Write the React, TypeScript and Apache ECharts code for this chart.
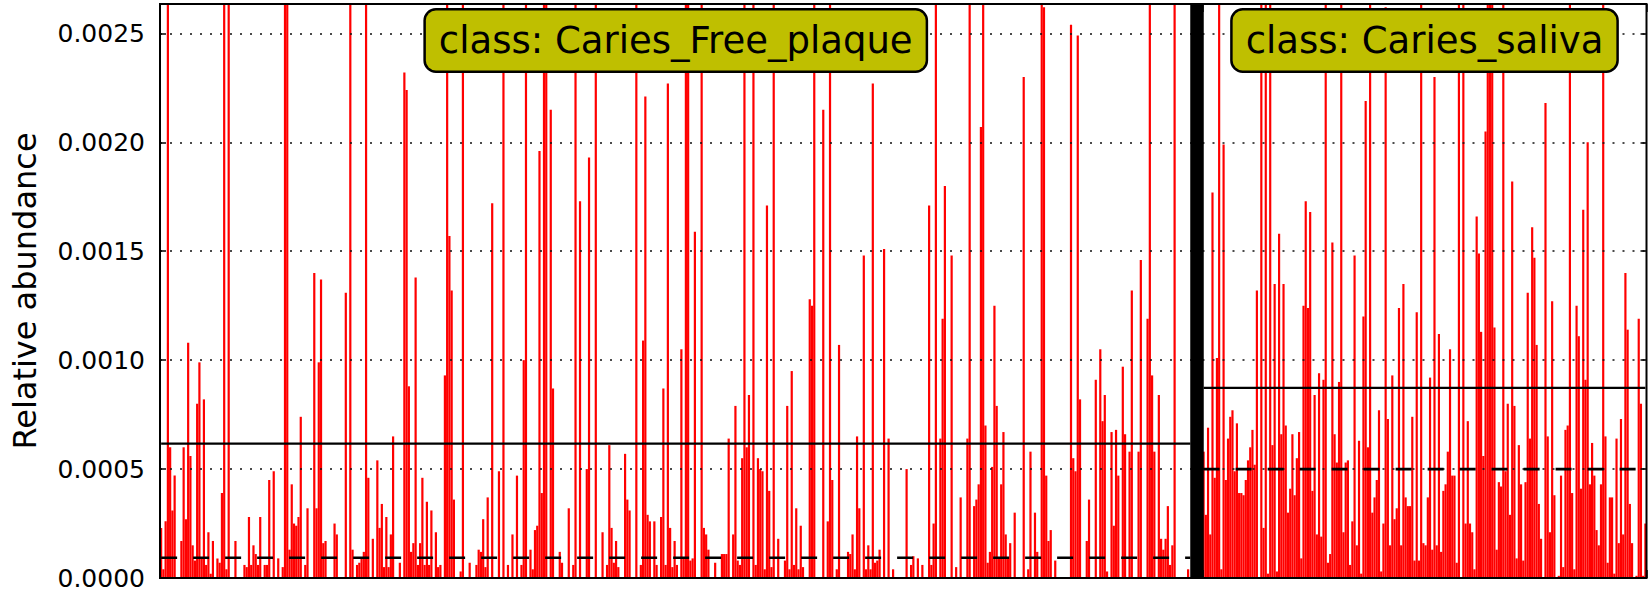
import React, { useEffect, useRef } from "react";
import * as echarts from "echarts";

// Values in units of 1e-5 (relative abundance), read left to right, one per sample.
// 300 = bar exceeding the top of the axis (clipped in the reference).
const UNIT = 1e-5;

const cariesFreePlaque: number[] = [
  23, 4, 26, 300, 60, 31, 47, 0, 0, 17, 60, 27, 108, 56, 15, 8, 80, 99, 9, 82,
  6, 21, 2, 17, 0, 9, 7, 39, 300, 4, 300, 0, 0, 17, 0, 0, 0, 6, 5, 28,
  6, 15, 11, 6, 28, 0, 6, 6, 45, 0, 49, 0, 9, 0, 5, 300, 300, 13, 43, 25,
  24, 28, 74, 0, 6, 32, 0, 0, 140, 32, 99, 137, 16, 17, 0, 0, 0, 25, 20, 0,
  0, 0, 131, 0, 300, 13, 0, 6, 7, 9, 12, 300, 46, 0, 18, 0, 54, 23, 34, 5,
  28, 5, 20, 65, 0, 0, 7, 0, 232, 224, 88,
  12, 16, 138, 6, 16, 46, 6, 35, 6, 31, 0, 21, 5, 6, 0, 93, 300, 157, 132, 36,
  0, 0, 3, 300, 0, 0, 7, 0, 0, 6, 13, 12, 27,
  5, 37, 0, 172, 0, 0, 49, 0, 300, 0, 6, 0, 20, 0, 47, 0, 6, 100, 300, 0,
  13, 4, 22, 24, 196, 39, 300, 300, 0, 215, 87, 0, 0, 12, 7, 0, 0, 32, 0, 6,
  300, 0, 173, 0, 0, 50, 193, 0, 0, 300, 0, 0, 21, 0, 6, 61, 23, 7, 17, 5,
  0, 0, 57, 36, 31, 0, 0, 300, 0, 6, 109, 221, 29, 26, 0, 26, 6, 0, 28, 87,
  6, 227, 23, 5, 17, 6, 0, 105, 9, 300, 300, 8, 9, 159, 0, 0, 300, 23, 20, 13,
  0, 0, 7, 0, 0, 11, 11, 11, 64, 0, 20, 79, 8, 6, 55, 300, 60, 84, 0, 300,
  6, 55, 50, 49, 4, 171, 40, 5, 300, 0, 18, 0, 0, 8, 79, 4, 95, 6, 32, 4,
  24, 5, 0, 0, 128, 125, 300, 0, 0, 0,
  215, 0, 26, 300, 45, 0, 4, 107, 0, 0, 0, 12, 11, 20, 4, 65, 32, 0, 148, 4,
  15, 4, 227, 7, 8, 13, 0, 151, 0, 64, 0, 4, 0, 0, 0, 0, 0, 50, 0, 6,
  10, 0, 9, 0, 6, 0, 0, 171, 6, 25, 300, 0, 64, 119, 180, 0, 0, 148, 0, 5,
  0, 37, 0, 0, 64, 300, 0, 33, 36, 43, 207, 300, 70, 7, 12, 51, 125, 79, 9, 43,
  67, 20, 9, 16, 0, 30, 0, 0, 0, 230, 0, 4, 58, 0, 30, 12, 0, 300, 262, 47,
  17, 22, 0, 8, 0, 0, 0, 0, 0, 0, 254, 55, 49, 249, 82, 0, 0, 17, 36, 0,
  0, 91, 0, 105, 72, 84, 3, 0, 67, 24, 68, 47, 0, 97, 66, 0, 58, 132, 0, 0,
  58, 146, 0, 0, 119, 300, 93, 58, 0, 84,
  18, 13, 18, 33, 6, 15, 300, 0, 0, 0, 0, 0, 4, 0,
];

const cariesSaliva: number[] = [
  58, 29, 69, 20, 177, 46, 101, 300, 4, 199, 45, 64, 74, 77, 49, 71, 39, 39, 38, 45,
  54, 60, 68, 52, 132, 0, 300, 23, 300, 2, 300, 61, 135, 3, 158, 66, 135, 70, 30, 41,
  66, 38, 55, 67, 9, 125, 173, 124, 168, 40, 84, 20, 94, 19, 91, 300, 7, 11, 154, 66,
  53, 90, 300, 21, 53, 54, 6, 26, 148, 15, 63, 2, 120, 219, 60, 300, 30, 37, 45, 77,
  3, 25, 262, 73, 15, 93, 27, 32, 124, 15, 135, 37,
  33, 33, 74, 8, 122, 8, 300, 16, 15, 37, 92, 13, 230, 15, 112, 12, 40, 43, 58, 105,
  47, 47, 7, 300, 0, 300, 25, 72, 25, 21, 4, 166, 149, 113, 56, 205, 300, 300, 300, 115,
  13, 44, 42, 300, 49, 80, 29, 182, 79, 9, 61, 43, 8, 44, 131, 64, 161, 147, 107, 34,
  18, 0, 218, 65, 21, 127, 38, 0, 1, 47, 5, 68, 70, 300, 39, 4, 125, 111, 41, 169,
  91, 200, 43, 62, 47, 22, 15, 43, 300, 65, 7, 37, 37, 2, 64, 16, 73, 20, 140, 114,
  34, 16, 0, 1, 119, 80, 1, 25,
];

const classLabels = ["class: Caries_Free_plaque", "class: Caries_saliva"];
// mean (solid) and median (dashed) lines of each class
const classMeans = [0.000617, 0.000873];
const classMedians = [0.000093, 0.0005];

const Y_MAX = 0.002635;
const Y_STEP = 0.0005;
const yAxisName = "Relative abundance";

const FONT = "'DejaVu Sans', 'Noto Sans', sans-serif";

export default function App() {
  const ref = useRef<HTMLDivElement>(null);

  useEffect(() => {
    if (!ref.current) return;
    const chart = echarts.init(ref.current, null, { renderer: "svg" });

    const G1 = { left: 160, top: 4, width: 1031.5, height: 574 };
    const G2 = { left: 1202.5, top: 4, width: 444, height: 574 };

    const groups = [cariesFreePlaque, cariesSaliva];
    const cats = groups.map((g) => g.map((_, i) => String(i)));

    const fmt = (v: number) => {
      const k = v / Y_STEP;
      return Math.abs(k - Math.round(k)) < 1e-6 ? v.toFixed(4) : "";
    };

    const yCommon = (gi: number) => ({
      type: "value" as const,
      gridIndex: gi,
      min: 0,
      max: Y_MAX,
      interval: Y_STEP,
      z: 5,
      position: gi === 0 ? ("left" as const) : ("right" as const),
      axisLine: { show: false },
      axisTick: {
        show: true,
        inside: true,
        length: 6,
        lineStyle: { color: "#000", width: 1.5 },
      },
      splitLine: {
        show: true,
        lineStyle: { color: "#111", width: 1.5, type: [2, 8] as number[] },
      },
      axisLabel:
        gi === 0
          ? {
              show: true,
              fontSize: 25,
              fontFamily: FONT,
              color: "#000",
              margin: 15,
              formatter: fmt,
            }
          : { show: false },
      name: gi === 0 ? yAxisName : "",
      nameLocation: "middle" as const,
      nameGap: 119,
      nameTextStyle: { fontSize: 32, fontFamily: FONT, color: "#000" },
    });

    const xAxes: any[] = [];
    groups.forEach((g, gi) => {
      const mid = Math.floor(g.length / 2);
      ["bottom", "top"].forEach((pos) => {
        xAxes.push({
          type: "category",
          gridIndex: gi,
          position: pos,
          data: cats[gi],
          boundaryGap: true,
          axisLine: { show: false },
          axisLabel: { show: false },
          splitLine: { show: false },
          z: 5,
          axisTick: {
            show: true,
            inside: true,
            length: 8,
            interval: (i: number) => i === mid,
            lineStyle: { color: "#000", width: 1.5 },
          },
        });
      });
    });

    const series: any[] = [];
    groups.forEach((g, gi) => {
      series.push({
        type: "bar",
        xAxisIndex: gi * 2,
        yAxisIndex: gi,
        data: g.map((v) => v * UNIT),
        barCategoryGap: "2%",
        itemStyle: { color: "#FF0000" },
        clip: true,
        silent: true,
      });
      const first = cats[gi][0];
      const last = cats[gi][cats[gi].length - 1];
      // class mean (solid)
      series.push({
        type: "line",
        xAxisIndex: gi * 2,
        yAxisIndex: gi,
        data: [
          [first, classMeans[gi]],
          [last, classMeans[gi]],
        ],
        symbol: "none",
        silent: true,
        z: 6,
        lineStyle: { color: "#000", width: 2.4, type: "solid" },
      });
      // class median (dashed)
      series.push({
        type: "line",
        xAxisIndex: gi * 2,
        yAxisIndex: gi,
        data: [
          [first, classMedians[gi]],
          [last, classMedians[gi]],
        ],
        symbol: "none",
        silent: true,
        z: 6,
        lineStyle: { color: "#000", width: 2.6, type: [16, 16] },
      });
    });

    const grids = [G1, G2];
    const labelBoxes = grids.map((g, gi) => ({
      type: "text",
      x: g.left + g.width / 2,
      y: 40.5,
      z: 100,
      style: {
        text: classLabels[gi],
        fontSize: 37,
        fontFamily: FONT,
        fill: "#000",
        align: "center",
        verticalAlign: "middle",
        lineHeight: 44,
        backgroundColor: "#BFBF00",
        borderColor: "#000",
        borderWidth: 2.5,
        borderRadius: 10,
        padding: [8, 13, 8, 13],
      },
    }));

    const g1Right = G1.left + G1.width;

    chart.setOption({
      animation: false,
      backgroundColor: "#fff",
      grid: grids.map((g) => ({
        left: g.left,
        top: g.top,
        width: g.width,
        height: g.height,
        show: true,
        z: 10,
        backgroundColor: "transparent",
        borderColor: "#000",
        borderWidth: 2,
        containLabel: false,
      })),
      xAxis: xAxes,
      yAxis: [yCommon(0), yCommon(1)],
      series,
      graphic: [
        {
          type: "rect",
          z: 100,
          shape: {
            x: g1Right - 1,
            y: G1.top - 1,
            width: G2.left - g1Right + 2,
            height: G1.height + 2,
          },
          style: { fill: "#000" },
        },
        ...labelBoxes,
      ],
    });

    return () => chart.dispose();
  }, []);

  return (
    <div
      ref={ref}
      style={{ position: "absolute", left: 0, top: 0, width: 1648, height: 593 }}
    />
  );
}
